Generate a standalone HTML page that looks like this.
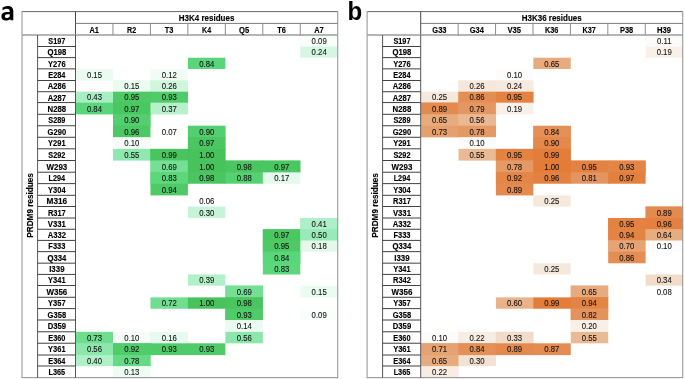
<!DOCTYPE html>
<html><head><meta charset="utf-8"><title>figure</title>
<style>
html,body{margin:0;padding:0;background:#fff;}
body{width:685px;height:379px;overflow:hidden;}
svg{display:block;opacity:0.999;will-change:transform;}
text{font-family:"Liberation Sans",sans-serif;fill:#1e1e1e;}
.hb{font-weight:bold;font-size:9.2px;fill:#000;stroke:#000;stroke-width:0.15px;}
.ch{font-weight:bold;font-size:8.8px;fill:#000;stroke:#000;stroke-width:0.15px;}
.rl{font-weight:bold;font-size:8.8px;fill:#000;stroke:#000;stroke-width:0.15px;}
.nv{font-size:9.0px;fill:#111;stroke:#111;stroke-width:0.1px;}
.vt{font-weight:bold;font-size:9.0px;fill:#000;stroke:#000;stroke-width:0.15px;}
.pl{font-weight:bold;font-size:25.6px;fill:#000;}
</style></head>
<body>
<svg width="685" height="379" viewBox="0 0 685 379">
<rect width="685" height="379" fill="#fff"/>
<rect x="300.29" y="35.10" width="37.46" height="11.49" fill="#F8FEFA"/>
<rect x="300.29" y="35.10" width="37.46" height="12.49" fill="#F8FEFA"/>
<rect x="300.29" y="46.59" width="37.46" height="11.14" fill="#D5F7E2"/>
<rect x="187.92" y="57.72" width="37.46" height="11.24" fill="#5AD67A"/>
<rect x="75.55" y="68.96" width="37.46" height="11.64" fill="#EAFBF0"/>
<rect x="150.46" y="68.96" width="37.46" height="11.64" fill="#F1FCF5"/>
<rect x="150.46" y="68.96" width="37.46" height="12.64" fill="#F1FCF5"/>
<rect x="113.01" y="80.59" width="38.46" height="11.24" fill="#EAFBF0"/>
<rect x="113.01" y="80.59" width="37.46" height="12.24" fill="#EAFBF0"/>
<rect x="150.46" y="80.59" width="37.46" height="11.24" fill="#D0F6DE"/>
<rect x="150.46" y="80.59" width="37.46" height="12.24" fill="#D0F6DE"/>
<rect x="75.55" y="91.83" width="38.46" height="10.84" fill="#A8EEC2"/>
<rect x="75.55" y="91.83" width="37.46" height="11.84" fill="#A8EEC2"/>
<rect x="113.01" y="91.83" width="38.46" height="10.84" fill="#4EC965"/>
<rect x="113.01" y="91.83" width="37.46" height="11.84" fill="#4EC965"/>
<rect x="150.46" y="91.83" width="37.46" height="10.84" fill="#50CB69"/>
<rect x="150.46" y="91.83" width="37.46" height="11.84" fill="#50CB69"/>
<rect x="75.55" y="102.67" width="38.46" height="11.74" fill="#5AD67A"/>
<rect x="113.01" y="102.67" width="38.46" height="11.74" fill="#4BC762"/>
<rect x="113.01" y="102.67" width="37.46" height="12.74" fill="#4BC762"/>
<rect x="150.46" y="102.67" width="37.46" height="11.74" fill="#B6F1CC"/>
<rect x="113.01" y="114.40" width="37.46" height="11.44" fill="#53CF6F"/>
<rect x="113.01" y="114.40" width="37.46" height="12.44" fill="#53CF6F"/>
<rect x="113.01" y="125.84" width="38.46" height="11.54" fill="#4CC864"/>
<rect x="113.01" y="125.84" width="37.46" height="12.54" fill="#4CC864"/>
<rect x="150.46" y="125.84" width="38.46" height="11.54" fill="#FDFFFD"/>
<rect x="187.92" y="125.84" width="37.46" height="11.54" fill="#53CF6F"/>
<rect x="187.92" y="125.84" width="37.46" height="12.54" fill="#53CF6F"/>
<rect x="113.01" y="137.37" width="37.46" height="11.54" fill="#F6FDF8"/>
<rect x="113.01" y="137.37" width="37.46" height="12.54" fill="#F6FDF8"/>
<rect x="187.92" y="137.37" width="37.46" height="11.54" fill="#4BC762"/>
<rect x="187.92" y="137.37" width="37.46" height="12.54" fill="#4BC762"/>
<rect x="113.01" y="148.91" width="38.46" height="11.69" fill="#8FE8AE"/>
<rect x="150.46" y="148.91" width="38.46" height="11.69" fill="#49C45E"/>
<rect x="150.46" y="148.91" width="37.46" height="12.69" fill="#49C45E"/>
<rect x="187.92" y="148.91" width="37.46" height="11.69" fill="#48C35C"/>
<rect x="187.92" y="148.91" width="37.46" height="12.69" fill="#48C35C"/>
<rect x="150.46" y="160.60" width="38.46" height="11.74" fill="#75DF95"/>
<rect x="150.46" y="160.60" width="37.46" height="12.74" fill="#75DF95"/>
<rect x="187.92" y="160.60" width="38.46" height="11.74" fill="#48C35C"/>
<rect x="187.92" y="160.60" width="37.46" height="12.74" fill="#48C35C"/>
<rect x="225.38" y="160.60" width="38.46" height="11.74" fill="#4AC560"/>
<rect x="225.38" y="160.60" width="37.46" height="12.74" fill="#4AC560"/>
<rect x="262.84" y="160.60" width="37.46" height="11.74" fill="#4BC762"/>
<rect x="262.84" y="160.60" width="37.46" height="12.74" fill="#4BC762"/>
<rect x="150.46" y="172.33" width="38.46" height="11.39" fill="#5CD77C"/>
<rect x="150.46" y="172.33" width="37.46" height="12.39" fill="#5CD77C"/>
<rect x="187.92" y="172.33" width="38.46" height="11.39" fill="#4AC560"/>
<rect x="225.38" y="172.33" width="38.46" height="11.39" fill="#56D172"/>
<rect x="262.84" y="172.33" width="37.46" height="11.39" fill="#E5FAED"/>
<rect x="150.46" y="183.72" width="37.46" height="11.69" fill="#4FCA67"/>
<rect x="187.92" y="206.59" width="37.46" height="11.54" fill="#C7F4D8"/>
<rect x="300.29" y="218.13" width="37.46" height="11.24" fill="#ADEFC6"/>
<rect x="300.29" y="218.13" width="37.46" height="12.24" fill="#ADEFC6"/>
<rect x="262.84" y="229.36" width="38.46" height="11.14" fill="#4BC762"/>
<rect x="262.84" y="229.36" width="37.46" height="12.14" fill="#4BC762"/>
<rect x="300.29" y="229.36" width="37.46" height="11.14" fill="#98EBB7"/>
<rect x="300.29" y="229.36" width="37.46" height="12.14" fill="#98EBB7"/>
<rect x="262.84" y="240.50" width="38.46" height="11.24" fill="#4EC965"/>
<rect x="262.84" y="240.50" width="37.46" height="12.24" fill="#4EC965"/>
<rect x="300.29" y="240.50" width="37.46" height="11.24" fill="#E3FAEB"/>
<rect x="262.84" y="251.73" width="37.46" height="11.54" fill="#5AD67A"/>
<rect x="262.84" y="251.73" width="37.46" height="12.54" fill="#5AD67A"/>
<rect x="262.84" y="263.27" width="37.46" height="11.24" fill="#5CD77C"/>
<rect x="187.92" y="274.51" width="37.46" height="11.14" fill="#B2F0C9"/>
<rect x="225.38" y="285.64" width="37.46" height="11.74" fill="#75DF95"/>
<rect x="225.38" y="285.64" width="37.46" height="12.74" fill="#75DF95"/>
<rect x="300.29" y="285.64" width="37.46" height="11.74" fill="#EAFBF0"/>
<rect x="150.46" y="297.38" width="38.46" height="11.34" fill="#70DD90"/>
<rect x="187.92" y="297.38" width="38.46" height="11.34" fill="#48C35C"/>
<rect x="225.38" y="297.38" width="37.46" height="11.34" fill="#4AC560"/>
<rect x="225.38" y="297.38" width="37.46" height="12.34" fill="#4AC560"/>
<rect x="225.38" y="308.71" width="37.46" height="11.39" fill="#50CB69"/>
<rect x="225.38" y="308.71" width="37.46" height="12.39" fill="#50CB69"/>
<rect x="300.29" y="308.71" width="37.46" height="11.39" fill="#F8FEFA"/>
<rect x="225.38" y="320.10" width="37.46" height="11.79" fill="#ECFBF2"/>
<rect x="225.38" y="320.10" width="37.46" height="12.79" fill="#ECFBF2"/>
<rect x="75.55" y="331.89" width="38.46" height="11.44" fill="#6EDD8E"/>
<rect x="75.55" y="331.89" width="37.46" height="12.44" fill="#6EDD8E"/>
<rect x="113.01" y="331.89" width="38.46" height="11.44" fill="#F6FDF8"/>
<rect x="113.01" y="331.89" width="37.46" height="12.44" fill="#F6FDF8"/>
<rect x="150.46" y="331.89" width="37.46" height="11.44" fill="#E8FAEF"/>
<rect x="150.46" y="331.89" width="37.46" height="12.44" fill="#E8FAEF"/>
<rect x="225.38" y="331.89" width="37.46" height="11.44" fill="#8DE7AC"/>
<rect x="75.55" y="343.32" width="38.46" height="11.79" fill="#8DE7AC"/>
<rect x="75.55" y="343.32" width="37.46" height="12.79" fill="#8DE7AC"/>
<rect x="113.01" y="343.32" width="38.46" height="11.79" fill="#51CC6B"/>
<rect x="113.01" y="343.32" width="37.46" height="12.79" fill="#51CC6B"/>
<rect x="150.46" y="343.32" width="38.46" height="11.79" fill="#50CB69"/>
<rect x="187.92" y="343.32" width="37.46" height="11.79" fill="#50CB69"/>
<rect x="75.55" y="355.11" width="38.46" height="10.99" fill="#AFF0C7"/>
<rect x="113.01" y="355.11" width="37.46" height="10.99" fill="#65DA85"/>
<rect x="113.01" y="355.11" width="37.46" height="11.99" fill="#65DA85"/>
<rect x="113.01" y="366.09" width="37.46" height="11.69" fill="#EFFCF4"/>
<line x1="22.00" y1="11.60" x2="337.70" y2="11.60" stroke="#666" stroke-width="1"/>
<line x1="22.00" y1="377.68" x2="337.70" y2="377.68" stroke="#8a8a8a" stroke-width="1"/>
<line x1="22.00" y1="11.10" x2="22.00" y2="378.18" stroke="#9a9a9a" stroke-width="1.1"/>
<line x1="337.70" y1="11.10" x2="337.70" y2="378.18" stroke="#9a9a9a" stroke-width="1.1"/>
<line x1="75.50" y1="11.60" x2="75.50" y2="35.00" stroke="#4a4a4a" stroke-width="1"/>
<line x1="75.50" y1="23.40" x2="337.70" y2="23.40" stroke="#7a7a7a" stroke-width="1"/>
<line x1="22.00" y1="35.00" x2="337.70" y2="35.00" stroke="#9c9c9c" stroke-width="1.5"/>
<line x1="112.96" y1="23.40" x2="112.96" y2="35.00" stroke="#8c8c8c" stroke-width="1"/>
<line x1="150.41" y1="23.40" x2="150.41" y2="35.00" stroke="#8c8c8c" stroke-width="1"/>
<line x1="187.87" y1="23.40" x2="187.87" y2="35.00" stroke="#8c8c8c" stroke-width="1"/>
<line x1="225.33" y1="23.40" x2="225.33" y2="35.00" stroke="#8c8c8c" stroke-width="1"/>
<line x1="262.79" y1="23.40" x2="262.79" y2="35.00" stroke="#8c8c8c" stroke-width="1"/>
<line x1="300.24" y1="23.40" x2="300.24" y2="35.00" stroke="#8c8c8c" stroke-width="1"/>
<line x1="37.60" y1="35.00" x2="37.60" y2="377.68" stroke="#555555" stroke-width="1"/>
<line x1="75.50" y1="35.00" x2="75.50" y2="377.68" stroke="#555555" stroke-width="1"/>
<line x1="37.60" y1="46.49" x2="75.50" y2="46.49" stroke="#404040" stroke-width="1"/>
<line x1="37.60" y1="57.62" x2="75.50" y2="57.62" stroke="#404040" stroke-width="1"/>
<line x1="37.60" y1="68.86" x2="75.50" y2="68.86" stroke="#404040" stroke-width="1"/>
<line x1="37.60" y1="80.49" x2="75.50" y2="80.49" stroke="#404040" stroke-width="1"/>
<line x1="37.60" y1="91.73" x2="75.50" y2="91.73" stroke="#404040" stroke-width="1"/>
<line x1="37.60" y1="102.57" x2="75.50" y2="102.57" stroke="#404040" stroke-width="1"/>
<line x1="37.60" y1="114.30" x2="75.50" y2="114.30" stroke="#404040" stroke-width="1"/>
<line x1="37.60" y1="125.74" x2="75.50" y2="125.74" stroke="#404040" stroke-width="1"/>
<line x1="37.60" y1="137.27" x2="75.50" y2="137.27" stroke="#404040" stroke-width="1"/>
<line x1="37.60" y1="148.81" x2="75.50" y2="148.81" stroke="#404040" stroke-width="1"/>
<line x1="37.60" y1="160.50" x2="75.50" y2="160.50" stroke="#404040" stroke-width="1"/>
<line x1="37.60" y1="172.23" x2="75.50" y2="172.23" stroke="#404040" stroke-width="1"/>
<line x1="37.60" y1="183.62" x2="75.50" y2="183.62" stroke="#404040" stroke-width="1"/>
<line x1="37.60" y1="195.30" x2="75.50" y2="195.30" stroke="#404040" stroke-width="1"/>
<line x1="37.60" y1="206.49" x2="75.50" y2="206.49" stroke="#404040" stroke-width="1"/>
<line x1="37.60" y1="218.03" x2="75.50" y2="218.03" stroke="#404040" stroke-width="1"/>
<line x1="37.60" y1="229.26" x2="75.50" y2="229.26" stroke="#404040" stroke-width="1"/>
<line x1="37.60" y1="240.40" x2="75.50" y2="240.40" stroke="#404040" stroke-width="1"/>
<line x1="37.60" y1="251.63" x2="75.50" y2="251.63" stroke="#404040" stroke-width="1"/>
<line x1="37.60" y1="263.17" x2="75.50" y2="263.17" stroke="#404040" stroke-width="1"/>
<line x1="37.60" y1="274.41" x2="75.50" y2="274.41" stroke="#404040" stroke-width="1"/>
<line x1="37.60" y1="285.54" x2="75.50" y2="285.54" stroke="#404040" stroke-width="1"/>
<line x1="37.60" y1="297.28" x2="75.50" y2="297.28" stroke="#404040" stroke-width="1"/>
<line x1="37.60" y1="308.61" x2="75.50" y2="308.61" stroke="#404040" stroke-width="1"/>
<line x1="37.60" y1="320.00" x2="75.50" y2="320.00" stroke="#404040" stroke-width="1"/>
<line x1="37.60" y1="331.79" x2="75.50" y2="331.79" stroke="#404040" stroke-width="1"/>
<line x1="37.60" y1="343.22" x2="75.50" y2="343.22" stroke="#404040" stroke-width="1"/>
<line x1="37.60" y1="355.01" x2="75.50" y2="355.01" stroke="#404040" stroke-width="1"/>
<line x1="37.60" y1="365.99" x2="75.50" y2="365.99" stroke="#404040" stroke-width="1"/>
<text class="hb" transform="translate(206.60,21.40) scale(0.87,1)" text-anchor="middle">H3K4 residues</text>
<text class="ch" transform="translate(94.23,32.90) scale(0.848,1)" text-anchor="middle">A1</text>
<text class="ch" transform="translate(131.69,32.90) scale(0.815,1)" text-anchor="middle">R2</text>
<text class="ch" transform="translate(169.14,32.90) scale(0.836,1)" text-anchor="middle">T3</text>
<text class="ch" transform="translate(206.60,32.90) scale(0.803,1)" text-anchor="middle">K4</text>
<text class="ch" transform="translate(244.06,32.90) scale(0.864,1)" text-anchor="middle">Q5</text>
<text class="ch" transform="translate(281.51,32.90) scale(0.836,1)" text-anchor="middle">T6</text>
<text class="ch" transform="translate(318.97,32.90) scale(0.848,1)" text-anchor="middle">A7</text>
<text class="rl" transform="translate(56.85,44.09) scale(0.832,1)" text-anchor="middle">S197</text>
<text class="nv" transform="translate(319.17,44.04) scale(0.862,1)" text-anchor="middle">0.09</text>
<text class="rl" transform="translate(56.85,55.40) scale(0.875,1)" text-anchor="middle">Q198</text>
<text class="nv" transform="translate(319.17,55.35) scale(0.862,1)" text-anchor="middle">0.24</text>
<text class="rl" transform="translate(56.85,66.59) scale(0.851,1)" text-anchor="middle">Y276</text>
<text class="nv" transform="translate(206.80,66.54) scale(0.862,1)" text-anchor="middle">0.84</text>
<text class="rl" transform="translate(56.85,78.03) scale(0.838,1)" text-anchor="middle">E284</text>
<text class="nv" transform="translate(94.43,77.98) scale(0.862,1)" text-anchor="middle">0.15</text>
<text class="nv" transform="translate(169.34,77.98) scale(0.862,1)" text-anchor="middle">0.12</text>
<text class="rl" transform="translate(56.85,89.46) scale(0.867,1)" text-anchor="middle">A286</text>
<text class="nv" transform="translate(131.89,89.41) scale(0.862,1)" text-anchor="middle">0.15</text>
<text class="nv" transform="translate(169.34,89.41) scale(0.862,1)" text-anchor="middle">0.26</text>
<text class="rl" transform="translate(56.85,100.50) scale(0.867,1)" text-anchor="middle">A287</text>
<text class="nv" transform="translate(94.43,100.45) scale(0.862,1)" text-anchor="middle">0.43</text>
<text class="nv" transform="translate(131.89,100.45) scale(0.862,1)" text-anchor="middle">0.95</text>
<text class="nv" transform="translate(169.34,100.45) scale(0.862,1)" text-anchor="middle">0.93</text>
<text class="rl" transform="translate(56.85,111.78) scale(0.889,1)" text-anchor="middle">N288</text>
<text class="nv" transform="translate(94.43,111.73) scale(0.862,1)" text-anchor="middle">0.84</text>
<text class="nv" transform="translate(131.89,111.73) scale(0.862,1)" text-anchor="middle">0.97</text>
<text class="nv" transform="translate(169.34,111.73) scale(0.862,1)" text-anchor="middle">0.37</text>
<text class="rl" transform="translate(56.85,123.37) scale(0.832,1)" text-anchor="middle">S289</text>
<text class="nv" transform="translate(131.89,123.32) scale(0.862,1)" text-anchor="middle">0.90</text>
<text class="rl" transform="translate(56.85,134.86) scale(0.859,1)" text-anchor="middle">G290</text>
<text class="nv" transform="translate(131.89,134.81) scale(0.862,1)" text-anchor="middle">0.96</text>
<text class="nv" transform="translate(169.34,134.81) scale(0.862,1)" text-anchor="middle">0.07</text>
<text class="nv" transform="translate(206.80,134.81) scale(0.862,1)" text-anchor="middle">0.90</text>
<text class="rl" transform="translate(56.85,146.39) scale(0.851,1)" text-anchor="middle">Y291</text>
<text class="nv" transform="translate(131.89,146.34) scale(0.862,1)" text-anchor="middle">0.10</text>
<text class="nv" transform="translate(206.80,146.34) scale(0.862,1)" text-anchor="middle">0.97</text>
<text class="rl" transform="translate(56.85,158.00) scale(0.832,1)" text-anchor="middle">S292</text>
<text class="nv" transform="translate(131.89,157.95) scale(0.862,1)" text-anchor="middle">0.55</text>
<text class="nv" transform="translate(169.34,157.95) scale(0.862,1)" text-anchor="middle">0.99</text>
<text class="nv" transform="translate(206.80,157.95) scale(0.862,1)" text-anchor="middle">1.00</text>
<text class="rl" transform="translate(56.85,169.71) scale(0.903,1)" text-anchor="middle">W293</text>
<text class="nv" transform="translate(169.34,169.66) scale(0.862,1)" text-anchor="middle">0.69</text>
<text class="nv" transform="translate(206.80,169.66) scale(0.862,1)" text-anchor="middle">1.00</text>
<text class="nv" transform="translate(244.26,169.66) scale(0.862,1)" text-anchor="middle">0.98</text>
<text class="nv" transform="translate(281.71,169.66) scale(0.862,1)" text-anchor="middle">0.97</text>
<text class="rl" transform="translate(56.85,181.28) scale(0.831,1)" text-anchor="middle">L294</text>
<text class="nv" transform="translate(169.34,181.22) scale(0.862,1)" text-anchor="middle">0.83</text>
<text class="nv" transform="translate(206.80,181.22) scale(0.862,1)" text-anchor="middle">0.98</text>
<text class="nv" transform="translate(244.26,181.22) scale(0.862,1)" text-anchor="middle">0.88</text>
<text class="nv" transform="translate(281.71,181.22) scale(0.862,1)" text-anchor="middle">0.17</text>
<text class="rl" transform="translate(56.85,192.81) scale(0.851,1)" text-anchor="middle">Y304</text>
<text class="nv" transform="translate(169.34,192.76) scale(0.862,1)" text-anchor="middle">0.94</text>
<text class="rl" transform="translate(56.85,204.25) scale(0.933,1)" text-anchor="middle">M316</text>
<text class="nv" transform="translate(206.80,204.20) scale(0.862,1)" text-anchor="middle">0.06</text>
<text class="rl" transform="translate(56.85,215.61) scale(0.849,1)" text-anchor="middle">R317</text>
<text class="nv" transform="translate(206.80,215.56) scale(0.862,1)" text-anchor="middle">0.30</text>
<text class="rl" transform="translate(56.85,226.99) scale(0.877,1)" text-anchor="middle">V331</text>
<text class="nv" transform="translate(319.17,226.94) scale(0.862,1)" text-anchor="middle">0.41</text>
<text class="rl" transform="translate(56.85,238.18) scale(0.867,1)" text-anchor="middle">A332</text>
<text class="nv" transform="translate(281.71,238.13) scale(0.862,1)" text-anchor="middle">0.97</text>
<text class="nv" transform="translate(319.17,238.13) scale(0.862,1)" text-anchor="middle">0.50</text>
<text class="rl" transform="translate(56.85,249.37) scale(0.846,1)" text-anchor="middle">F333</text>
<text class="nv" transform="translate(281.71,249.32) scale(0.862,1)" text-anchor="middle">0.95</text>
<text class="nv" transform="translate(319.17,249.32) scale(0.862,1)" text-anchor="middle">0.18</text>
<text class="rl" transform="translate(56.85,260.75) scale(0.875,1)" text-anchor="middle">Q334</text>
<text class="nv" transform="translate(281.71,260.70) scale(0.862,1)" text-anchor="middle">0.84</text>
<text class="rl" transform="translate(56.85,272.14) scale(0.895,1)" text-anchor="middle">I339</text>
<text class="nv" transform="translate(281.71,272.09) scale(0.862,1)" text-anchor="middle">0.83</text>
<text class="rl" transform="translate(56.85,283.32) scale(0.851,1)" text-anchor="middle">Y341</text>
<text class="nv" transform="translate(206.80,283.27) scale(0.862,1)" text-anchor="middle">0.39</text>
<text class="rl" transform="translate(56.85,294.76) scale(0.903,1)" text-anchor="middle">W356</text>
<text class="nv" transform="translate(244.26,294.71) scale(0.862,1)" text-anchor="middle">0.69</text>
<text class="nv" transform="translate(319.17,294.71) scale(0.862,1)" text-anchor="middle">0.15</text>
<text class="rl" transform="translate(56.85,306.30) scale(0.851,1)" text-anchor="middle">Y357</text>
<text class="nv" transform="translate(169.34,306.25) scale(0.862,1)" text-anchor="middle">0.72</text>
<text class="nv" transform="translate(206.80,306.25) scale(0.862,1)" text-anchor="middle">1.00</text>
<text class="nv" transform="translate(244.26,306.25) scale(0.862,1)" text-anchor="middle">0.98</text>
<text class="rl" transform="translate(56.85,317.66) scale(0.859,1)" text-anchor="middle">G358</text>
<text class="nv" transform="translate(244.26,317.61) scale(0.862,1)" text-anchor="middle">0.93</text>
<text class="nv" transform="translate(319.17,317.61) scale(0.862,1)" text-anchor="middle">0.09</text>
<text class="rl" transform="translate(56.85,329.24) scale(0.876,1)" text-anchor="middle">D359</text>
<text class="nv" transform="translate(244.26,329.19) scale(0.862,1)" text-anchor="middle">0.14</text>
<text class="rl" transform="translate(56.85,340.85) scale(0.838,1)" text-anchor="middle">E360</text>
<text class="nv" transform="translate(94.43,340.80) scale(0.862,1)" text-anchor="middle">0.73</text>
<text class="nv" transform="translate(131.89,340.80) scale(0.862,1)" text-anchor="middle">0.10</text>
<text class="nv" transform="translate(169.34,340.80) scale(0.862,1)" text-anchor="middle">0.16</text>
<text class="nv" transform="translate(244.26,340.80) scale(0.862,1)" text-anchor="middle">0.56</text>
<text class="rl" transform="translate(56.85,352.47) scale(0.851,1)" text-anchor="middle">Y361</text>
<text class="nv" transform="translate(94.43,352.42) scale(0.862,1)" text-anchor="middle">0.56</text>
<text class="nv" transform="translate(131.89,352.42) scale(0.862,1)" text-anchor="middle">0.92</text>
<text class="nv" transform="translate(169.34,352.42) scale(0.862,1)" text-anchor="middle">0.93</text>
<text class="nv" transform="translate(206.80,352.42) scale(0.862,1)" text-anchor="middle">0.93</text>
<text class="rl" transform="translate(56.85,363.85) scale(0.838,1)" text-anchor="middle">E364</text>
<text class="nv" transform="translate(94.43,363.80) scale(0.862,1)" text-anchor="middle">0.40</text>
<text class="nv" transform="translate(131.89,363.80) scale(0.862,1)" text-anchor="middle">0.78</text>
<text class="rl" transform="translate(56.85,375.19) scale(0.831,1)" text-anchor="middle">L365</text>
<text class="nv" transform="translate(131.89,375.14) scale(0.862,1)" text-anchor="middle">0.13</text>
<text class="vt" transform="translate(33.30,205.40) rotate(-90) scale(0.91,1)" text-anchor="middle">PRDM9 residues</text>
<path fill="#000" fill-rule="evenodd" d="M13.3 20.2 L10.4 20.2 L10.3 18.9 C9.0 20.0 7.4 20.5 5.8 20.5 C3.2 20.5 1.4 19.0 1.4 16.5 C1.4 13.4 3.8 12.0 7.6 12.0 L9.7 12.0 L9.7 11.3 C9.7 9.6 8.9 8.8 7.0 8.8 C5.5 8.8 4.0 9.3 2.6 10.2 L2.5 7.7 C3.8 6.8 5.6 6.0 7.6 6.0 C11.3 6.0 13.3 7.8 13.3 11.2 Z M9.7 14.3 L7.8 14.3 C5.8 14.3 4.9 15.0 4.9 16.3 C4.9 17.5 5.6 18.1 6.7 18.1 C7.8 18.1 8.7 17.6 9.7 16.6 Z"/>
<rect x="645.62" y="35.10" width="37.43" height="11.49" fill="#FDFBF9"/>
<rect x="645.62" y="35.10" width="37.43" height="12.49" fill="#FDFBF9"/>
<rect x="645.62" y="46.59" width="37.43" height="11.14" fill="#F9F1E9"/>
<rect x="533.34" y="57.72" width="37.43" height="11.24" fill="#E7AB7E"/>
<rect x="495.91" y="68.96" width="37.43" height="11.64" fill="#FEFCFB"/>
<rect x="495.91" y="68.96" width="37.43" height="12.64" fill="#FEFCFB"/>
<rect x="458.48" y="80.59" width="38.43" height="11.24" fill="#F5E7DB"/>
<rect x="458.48" y="80.59" width="37.43" height="12.24" fill="#F5E7DB"/>
<rect x="495.91" y="80.59" width="37.43" height="11.24" fill="#F6EADF"/>
<rect x="495.91" y="80.59" width="37.43" height="12.24" fill="#F6EADF"/>
<rect x="421.05" y="91.83" width="38.43" height="10.84" fill="#F5E9DD"/>
<rect x="421.05" y="91.83" width="37.43" height="11.84" fill="#F5E9DD"/>
<rect x="458.48" y="91.83" width="38.43" height="10.84" fill="#E48E54"/>
<rect x="458.48" y="91.83" width="37.43" height="11.84" fill="#E48E54"/>
<rect x="495.91" y="91.83" width="37.43" height="10.84" fill="#E48242"/>
<rect x="495.91" y="91.83" width="37.43" height="11.84" fill="#E48242"/>
<rect x="421.05" y="102.67" width="38.43" height="11.74" fill="#E48A4E"/>
<rect x="421.05" y="102.67" width="37.43" height="12.74" fill="#E48A4E"/>
<rect x="458.48" y="102.67" width="38.43" height="11.74" fill="#E59762"/>
<rect x="458.48" y="102.67" width="37.43" height="12.74" fill="#E59762"/>
<rect x="495.91" y="102.67" width="37.43" height="11.74" fill="#F9F1E9"/>
<rect x="421.05" y="114.40" width="38.43" height="11.44" fill="#E7AB7E"/>
<rect x="421.05" y="114.40" width="37.43" height="12.44" fill="#E7AB7E"/>
<rect x="458.48" y="114.40" width="37.43" height="11.44" fill="#EAB892"/>
<rect x="458.48" y="114.40" width="37.43" height="12.44" fill="#EAB892"/>
<rect x="421.05" y="125.84" width="38.43" height="11.54" fill="#E6A06E"/>
<rect x="458.48" y="125.84" width="37.43" height="11.54" fill="#E59964"/>
<rect x="458.48" y="125.84" width="37.43" height="12.54" fill="#E59964"/>
<rect x="533.34" y="125.84" width="37.43" height="11.54" fill="#E49058"/>
<rect x="533.34" y="125.84" width="37.43" height="12.54" fill="#E49058"/>
<rect x="458.48" y="137.37" width="37.43" height="11.54" fill="#FEFCFB"/>
<rect x="458.48" y="137.37" width="37.43" height="12.54" fill="#FEFCFB"/>
<rect x="533.34" y="137.37" width="37.43" height="11.54" fill="#E4884C"/>
<rect x="533.34" y="137.37" width="37.43" height="12.54" fill="#E4884C"/>
<rect x="458.48" y="148.91" width="38.43" height="11.69" fill="#EABA95"/>
<rect x="495.91" y="148.91" width="38.43" height="11.69" fill="#E48242"/>
<rect x="495.91" y="148.91" width="37.43" height="12.69" fill="#E48242"/>
<rect x="533.34" y="148.91" width="37.43" height="11.69" fill="#E47D3A"/>
<rect x="533.34" y="148.91" width="37.43" height="12.69" fill="#E47D3A"/>
<rect x="495.91" y="160.60" width="38.43" height="11.74" fill="#E59964"/>
<rect x="495.91" y="160.60" width="37.43" height="12.74" fill="#E59964"/>
<rect x="533.34" y="160.60" width="38.43" height="11.74" fill="#E47C38"/>
<rect x="533.34" y="160.60" width="37.43" height="12.74" fill="#E47C38"/>
<rect x="570.76" y="160.60" width="38.43" height="11.74" fill="#E48242"/>
<rect x="570.76" y="160.60" width="37.43" height="12.74" fill="#E48242"/>
<rect x="608.19" y="160.60" width="37.43" height="11.74" fill="#E48546"/>
<rect x="608.19" y="160.60" width="37.43" height="12.74" fill="#E48546"/>
<rect x="495.91" y="172.33" width="38.43" height="11.39" fill="#E48648"/>
<rect x="495.91" y="172.33" width="37.43" height="12.39" fill="#E48648"/>
<rect x="533.34" y="172.33" width="38.43" height="11.39" fill="#E48140"/>
<rect x="570.76" y="172.33" width="38.43" height="11.39" fill="#E4945E"/>
<rect x="608.19" y="172.33" width="37.43" height="11.39" fill="#E4803E"/>
<rect x="495.91" y="183.72" width="37.43" height="11.69" fill="#E48A4E"/>
<rect x="533.34" y="195.40" width="37.43" height="11.19" fill="#F5E9DD"/>
<rect x="645.62" y="206.59" width="37.43" height="11.54" fill="#E48A4E"/>
<rect x="645.62" y="206.59" width="37.43" height="12.54" fill="#E48A4E"/>
<rect x="608.19" y="218.13" width="38.43" height="11.24" fill="#E48242"/>
<rect x="608.19" y="218.13" width="37.43" height="12.24" fill="#E48242"/>
<rect x="645.62" y="218.13" width="37.43" height="11.24" fill="#E48140"/>
<rect x="645.62" y="218.13" width="37.43" height="12.24" fill="#E48140"/>
<rect x="608.19" y="229.36" width="38.43" height="11.14" fill="#E48444"/>
<rect x="608.19" y="229.36" width="37.43" height="12.14" fill="#E48444"/>
<rect x="645.62" y="229.36" width="37.43" height="11.14" fill="#E7AC80"/>
<rect x="645.62" y="229.36" width="37.43" height="12.14" fill="#E7AC80"/>
<rect x="608.19" y="240.50" width="38.43" height="11.24" fill="#E6A474"/>
<rect x="608.19" y="240.50" width="37.43" height="12.24" fill="#E6A474"/>
<rect x="645.62" y="240.50" width="37.43" height="11.24" fill="#FEFCFB"/>
<rect x="608.19" y="251.73" width="37.43" height="11.54" fill="#E48E54"/>
<rect x="533.34" y="263.27" width="37.43" height="11.24" fill="#F5E9DD"/>
<rect x="645.62" y="274.51" width="37.43" height="11.14" fill="#F2DBC7"/>
<rect x="570.76" y="285.64" width="37.43" height="11.74" fill="#E7AB7E"/>
<rect x="570.76" y="285.64" width="37.43" height="12.74" fill="#E7AB7E"/>
<rect x="495.91" y="297.38" width="38.43" height="11.34" fill="#E9B289"/>
<rect x="533.34" y="297.38" width="38.43" height="11.34" fill="#E47D3A"/>
<rect x="570.76" y="297.38" width="37.43" height="11.34" fill="#E48444"/>
<rect x="570.76" y="297.38" width="37.43" height="12.34" fill="#E48444"/>
<rect x="570.76" y="308.71" width="37.43" height="11.39" fill="#E4935C"/>
<rect x="570.76" y="308.71" width="37.43" height="12.39" fill="#E4935C"/>
<rect x="570.76" y="320.10" width="37.43" height="11.79" fill="#F8EFE7"/>
<rect x="570.76" y="320.10" width="37.43" height="12.79" fill="#F8EFE7"/>
<rect x="421.05" y="331.89" width="38.43" height="11.44" fill="#FEFCFB"/>
<rect x="421.05" y="331.89" width="37.43" height="12.44" fill="#FEFCFB"/>
<rect x="458.48" y="331.89" width="38.43" height="11.44" fill="#F7EDE3"/>
<rect x="458.48" y="331.89" width="37.43" height="12.44" fill="#F7EDE3"/>
<rect x="495.91" y="331.89" width="37.43" height="11.44" fill="#F2DCC9"/>
<rect x="495.91" y="331.89" width="37.43" height="12.44" fill="#F2DCC9"/>
<rect x="570.76" y="331.89" width="37.43" height="11.44" fill="#EABA95"/>
<rect x="421.05" y="343.32" width="38.43" height="11.79" fill="#E6A272"/>
<rect x="421.05" y="343.32" width="37.43" height="12.79" fill="#E6A272"/>
<rect x="458.48" y="343.32" width="38.43" height="11.79" fill="#E49058"/>
<rect x="458.48" y="343.32" width="37.43" height="12.79" fill="#E49058"/>
<rect x="495.91" y="343.32" width="38.43" height="11.79" fill="#E48A4E"/>
<rect x="533.34" y="343.32" width="37.43" height="11.79" fill="#E48C52"/>
<rect x="421.05" y="355.11" width="38.43" height="10.99" fill="#E7AB7E"/>
<rect x="421.05" y="355.11" width="37.43" height="11.99" fill="#E7AB7E"/>
<rect x="458.48" y="355.11" width="37.43" height="10.99" fill="#F3E1D1"/>
<rect x="421.05" y="366.09" width="37.43" height="11.69" fill="#F7EDE3"/>
<line x1="367.10" y1="11.60" x2="682.70" y2="11.60" stroke="#666" stroke-width="1"/>
<line x1="367.10" y1="377.68" x2="682.70" y2="377.68" stroke="#8a8a8a" stroke-width="1"/>
<line x1="367.10" y1="11.10" x2="367.10" y2="378.18" stroke="#9a9a9a" stroke-width="1.1"/>
<line x1="682.70" y1="11.10" x2="682.70" y2="378.18" stroke="#9a9a9a" stroke-width="1.1"/>
<line x1="420.70" y1="11.60" x2="420.70" y2="35.00" stroke="#4a4a4a" stroke-width="1"/>
<line x1="420.70" y1="23.40" x2="682.70" y2="23.40" stroke="#7a7a7a" stroke-width="1"/>
<line x1="367.10" y1="35.00" x2="682.70" y2="35.00" stroke="#9c9c9c" stroke-width="1.5"/>
<line x1="458.13" y1="23.40" x2="458.13" y2="35.00" stroke="#8c8c8c" stroke-width="1"/>
<line x1="495.56" y1="23.40" x2="495.56" y2="35.00" stroke="#8c8c8c" stroke-width="1"/>
<line x1="532.99" y1="23.40" x2="532.99" y2="35.00" stroke="#8c8c8c" stroke-width="1"/>
<line x1="570.41" y1="23.40" x2="570.41" y2="35.00" stroke="#8c8c8c" stroke-width="1"/>
<line x1="607.84" y1="23.40" x2="607.84" y2="35.00" stroke="#8c8c8c" stroke-width="1"/>
<line x1="645.27" y1="23.40" x2="645.27" y2="35.00" stroke="#8c8c8c" stroke-width="1"/>
<line x1="382.60" y1="35.00" x2="382.60" y2="377.68" stroke="#555555" stroke-width="1"/>
<line x1="420.70" y1="35.00" x2="420.70" y2="377.68" stroke="#555555" stroke-width="1"/>
<line x1="382.60" y1="46.49" x2="420.70" y2="46.49" stroke="#404040" stroke-width="1"/>
<line x1="382.60" y1="57.62" x2="420.70" y2="57.62" stroke="#404040" stroke-width="1"/>
<line x1="382.60" y1="68.86" x2="420.70" y2="68.86" stroke="#404040" stroke-width="1"/>
<line x1="382.60" y1="80.49" x2="420.70" y2="80.49" stroke="#404040" stroke-width="1"/>
<line x1="382.60" y1="91.73" x2="420.70" y2="91.73" stroke="#404040" stroke-width="1"/>
<line x1="382.60" y1="102.57" x2="420.70" y2="102.57" stroke="#404040" stroke-width="1"/>
<line x1="382.60" y1="114.30" x2="420.70" y2="114.30" stroke="#404040" stroke-width="1"/>
<line x1="382.60" y1="125.74" x2="420.70" y2="125.74" stroke="#404040" stroke-width="1"/>
<line x1="382.60" y1="137.27" x2="420.70" y2="137.27" stroke="#404040" stroke-width="1"/>
<line x1="382.60" y1="148.81" x2="420.70" y2="148.81" stroke="#404040" stroke-width="1"/>
<line x1="382.60" y1="160.50" x2="420.70" y2="160.50" stroke="#404040" stroke-width="1"/>
<line x1="382.60" y1="172.23" x2="420.70" y2="172.23" stroke="#404040" stroke-width="1"/>
<line x1="382.60" y1="183.62" x2="420.70" y2="183.62" stroke="#404040" stroke-width="1"/>
<line x1="382.60" y1="195.30" x2="420.70" y2="195.30" stroke="#404040" stroke-width="1"/>
<line x1="382.60" y1="206.49" x2="420.70" y2="206.49" stroke="#404040" stroke-width="1"/>
<line x1="382.60" y1="218.03" x2="420.70" y2="218.03" stroke="#404040" stroke-width="1"/>
<line x1="382.60" y1="229.26" x2="420.70" y2="229.26" stroke="#404040" stroke-width="1"/>
<line x1="382.60" y1="240.40" x2="420.70" y2="240.40" stroke="#404040" stroke-width="1"/>
<line x1="382.60" y1="251.63" x2="420.70" y2="251.63" stroke="#404040" stroke-width="1"/>
<line x1="382.60" y1="263.17" x2="420.70" y2="263.17" stroke="#404040" stroke-width="1"/>
<line x1="382.60" y1="274.41" x2="420.70" y2="274.41" stroke="#404040" stroke-width="1"/>
<line x1="382.60" y1="285.54" x2="420.70" y2="285.54" stroke="#404040" stroke-width="1"/>
<line x1="382.60" y1="297.28" x2="420.70" y2="297.28" stroke="#404040" stroke-width="1"/>
<line x1="382.60" y1="308.61" x2="420.70" y2="308.61" stroke="#404040" stroke-width="1"/>
<line x1="382.60" y1="320.00" x2="420.70" y2="320.00" stroke="#404040" stroke-width="1"/>
<line x1="382.60" y1="331.79" x2="420.70" y2="331.79" stroke="#404040" stroke-width="1"/>
<line x1="382.60" y1="343.22" x2="420.70" y2="343.22" stroke="#404040" stroke-width="1"/>
<line x1="382.60" y1="355.01" x2="420.70" y2="355.01" stroke="#404040" stroke-width="1"/>
<line x1="382.60" y1="365.99" x2="420.70" y2="365.99" stroke="#404040" stroke-width="1"/>
<text class="hb" transform="translate(551.70,21.40) scale(0.87,1)" text-anchor="middle">H3K36 residues</text>
<text class="ch" transform="translate(439.41,32.90) scale(0.851,1)" text-anchor="middle">G33</text>
<text class="ch" transform="translate(476.84,32.90) scale(0.851,1)" text-anchor="middle">G34</text>
<text class="ch" transform="translate(514.27,32.90) scale(0.874,1)" text-anchor="middle">V35</text>
<text class="ch" transform="translate(551.70,32.90) scale(0.829,1)" text-anchor="middle">K36</text>
<text class="ch" transform="translate(589.13,32.90) scale(0.829,1)" text-anchor="middle">K37</text>
<text class="ch" transform="translate(626.56,32.90) scale(0.846,1)" text-anchor="middle">P38</text>
<text class="ch" transform="translate(663.99,32.90) scale(0.873,1)" text-anchor="middle">H39</text>
<text class="rl" transform="translate(401.95,44.09) scale(0.832,1)" text-anchor="middle">S197</text>
<text class="nv" transform="translate(664.19,44.04) scale(0.862,1)" text-anchor="middle">0.11</text>
<text class="rl" transform="translate(401.95,55.40) scale(0.875,1)" text-anchor="middle">Q198</text>
<text class="nv" transform="translate(664.19,55.35) scale(0.862,1)" text-anchor="middle">0.19</text>
<text class="rl" transform="translate(401.95,66.59) scale(0.851,1)" text-anchor="middle">Y276</text>
<text class="nv" transform="translate(551.90,66.54) scale(0.862,1)" text-anchor="middle">0.65</text>
<text class="rl" transform="translate(401.95,78.03) scale(0.838,1)" text-anchor="middle">E284</text>
<text class="nv" transform="translate(514.47,77.98) scale(0.862,1)" text-anchor="middle">0.10</text>
<text class="rl" transform="translate(401.95,89.46) scale(0.867,1)" text-anchor="middle">A286</text>
<text class="nv" transform="translate(477.04,89.41) scale(0.862,1)" text-anchor="middle">0.26</text>
<text class="nv" transform="translate(514.47,89.41) scale(0.862,1)" text-anchor="middle">0.24</text>
<text class="rl" transform="translate(401.95,100.50) scale(0.867,1)" text-anchor="middle">A287</text>
<text class="nv" transform="translate(439.61,100.45) scale(0.862,1)" text-anchor="middle">0.25</text>
<text class="nv" transform="translate(477.04,100.45) scale(0.862,1)" text-anchor="middle">0.86</text>
<text class="nv" transform="translate(514.47,100.45) scale(0.862,1)" text-anchor="middle">0.95</text>
<text class="rl" transform="translate(401.95,111.78) scale(0.889,1)" text-anchor="middle">N288</text>
<text class="nv" transform="translate(439.61,111.73) scale(0.862,1)" text-anchor="middle">0.89</text>
<text class="nv" transform="translate(477.04,111.73) scale(0.862,1)" text-anchor="middle">0.79</text>
<text class="nv" transform="translate(514.47,111.73) scale(0.862,1)" text-anchor="middle">0.19</text>
<text class="rl" transform="translate(401.95,123.37) scale(0.832,1)" text-anchor="middle">S289</text>
<text class="nv" transform="translate(439.61,123.32) scale(0.862,1)" text-anchor="middle">0.65</text>
<text class="nv" transform="translate(477.04,123.32) scale(0.862,1)" text-anchor="middle">0.56</text>
<text class="rl" transform="translate(401.95,134.86) scale(0.859,1)" text-anchor="middle">G290</text>
<text class="nv" transform="translate(439.61,134.81) scale(0.862,1)" text-anchor="middle">0.73</text>
<text class="nv" transform="translate(477.04,134.81) scale(0.862,1)" text-anchor="middle">0.78</text>
<text class="nv" transform="translate(551.90,134.81) scale(0.862,1)" text-anchor="middle">0.84</text>
<text class="rl" transform="translate(401.95,146.39) scale(0.851,1)" text-anchor="middle">Y291</text>
<text class="nv" transform="translate(477.04,146.34) scale(0.862,1)" text-anchor="middle">0.10</text>
<text class="nv" transform="translate(551.90,146.34) scale(0.862,1)" text-anchor="middle">0.90</text>
<text class="rl" transform="translate(401.95,158.00) scale(0.832,1)" text-anchor="middle">S292</text>
<text class="nv" transform="translate(477.04,157.95) scale(0.862,1)" text-anchor="middle">0.55</text>
<text class="nv" transform="translate(514.47,157.95) scale(0.862,1)" text-anchor="middle">0.95</text>
<text class="nv" transform="translate(551.90,157.95) scale(0.862,1)" text-anchor="middle">0.99</text>
<text class="rl" transform="translate(401.95,169.71) scale(0.903,1)" text-anchor="middle">W293</text>
<text class="nv" transform="translate(514.47,169.66) scale(0.862,1)" text-anchor="middle">0.78</text>
<text class="nv" transform="translate(551.90,169.66) scale(0.862,1)" text-anchor="middle">1.00</text>
<text class="nv" transform="translate(589.33,169.66) scale(0.862,1)" text-anchor="middle">0.95</text>
<text class="nv" transform="translate(626.76,169.66) scale(0.862,1)" text-anchor="middle">0.93</text>
<text class="rl" transform="translate(401.95,181.28) scale(0.831,1)" text-anchor="middle">L294</text>
<text class="nv" transform="translate(514.47,181.22) scale(0.862,1)" text-anchor="middle">0.92</text>
<text class="nv" transform="translate(551.90,181.22) scale(0.862,1)" text-anchor="middle">0.96</text>
<text class="nv" transform="translate(589.33,181.22) scale(0.862,1)" text-anchor="middle">0.81</text>
<text class="nv" transform="translate(626.76,181.22) scale(0.862,1)" text-anchor="middle">0.97</text>
<text class="rl" transform="translate(401.95,192.81) scale(0.851,1)" text-anchor="middle">Y304</text>
<text class="nv" transform="translate(514.47,192.76) scale(0.862,1)" text-anchor="middle">0.89</text>
<text class="rl" transform="translate(401.95,204.25) scale(0.849,1)" text-anchor="middle">R317</text>
<text class="nv" transform="translate(551.90,204.20) scale(0.862,1)" text-anchor="middle">0.25</text>
<text class="rl" transform="translate(401.95,215.61) scale(0.877,1)" text-anchor="middle">V331</text>
<text class="nv" transform="translate(664.19,215.56) scale(0.862,1)" text-anchor="middle">0.89</text>
<text class="rl" transform="translate(401.95,226.99) scale(0.867,1)" text-anchor="middle">A332</text>
<text class="nv" transform="translate(626.76,226.94) scale(0.862,1)" text-anchor="middle">0.95</text>
<text class="nv" transform="translate(664.19,226.94) scale(0.862,1)" text-anchor="middle">0.96</text>
<text class="rl" transform="translate(401.95,238.18) scale(0.846,1)" text-anchor="middle">F333</text>
<text class="nv" transform="translate(626.76,238.13) scale(0.862,1)" text-anchor="middle">0.94</text>
<text class="nv" transform="translate(664.19,238.13) scale(0.862,1)" text-anchor="middle">0.64</text>
<text class="rl" transform="translate(401.95,249.37) scale(0.875,1)" text-anchor="middle">Q334</text>
<text class="nv" transform="translate(626.76,249.32) scale(0.862,1)" text-anchor="middle">0.70</text>
<text class="nv" transform="translate(664.19,249.32) scale(0.862,1)" text-anchor="middle">0.10</text>
<text class="rl" transform="translate(401.95,260.75) scale(0.895,1)" text-anchor="middle">I339</text>
<text class="nv" transform="translate(626.76,260.70) scale(0.862,1)" text-anchor="middle">0.86</text>
<text class="rl" transform="translate(401.95,272.14) scale(0.851,1)" text-anchor="middle">Y341</text>
<text class="nv" transform="translate(551.90,272.09) scale(0.862,1)" text-anchor="middle">0.25</text>
<text class="rl" transform="translate(401.95,283.32) scale(0.849,1)" text-anchor="middle">R342</text>
<text class="nv" transform="translate(664.19,283.27) scale(0.862,1)" text-anchor="middle">0.34</text>
<text class="rl" transform="translate(401.95,294.76) scale(0.903,1)" text-anchor="middle">W356</text>
<text class="nv" transform="translate(589.33,294.71) scale(0.862,1)" text-anchor="middle">0.65</text>
<text class="nv" transform="translate(664.19,294.71) scale(0.862,1)" text-anchor="middle">0.08</text>
<text class="rl" transform="translate(401.95,306.30) scale(0.851,1)" text-anchor="middle">Y357</text>
<text class="nv" transform="translate(514.47,306.25) scale(0.862,1)" text-anchor="middle">0.60</text>
<text class="nv" transform="translate(551.90,306.25) scale(0.862,1)" text-anchor="middle">0.99</text>
<text class="nv" transform="translate(589.33,306.25) scale(0.862,1)" text-anchor="middle">0.94</text>
<text class="rl" transform="translate(401.95,317.66) scale(0.859,1)" text-anchor="middle">G358</text>
<text class="nv" transform="translate(589.33,317.61) scale(0.862,1)" text-anchor="middle">0.82</text>
<text class="rl" transform="translate(401.95,329.24) scale(0.876,1)" text-anchor="middle">D359</text>
<text class="nv" transform="translate(589.33,329.19) scale(0.862,1)" text-anchor="middle">0.20</text>
<text class="rl" transform="translate(401.95,340.85) scale(0.838,1)" text-anchor="middle">E360</text>
<text class="nv" transform="translate(439.61,340.80) scale(0.862,1)" text-anchor="middle">0.10</text>
<text class="nv" transform="translate(477.04,340.80) scale(0.862,1)" text-anchor="middle">0.22</text>
<text class="nv" transform="translate(514.47,340.80) scale(0.862,1)" text-anchor="middle">0.33</text>
<text class="nv" transform="translate(589.33,340.80) scale(0.862,1)" text-anchor="middle">0.55</text>
<text class="rl" transform="translate(401.95,352.47) scale(0.851,1)" text-anchor="middle">Y361</text>
<text class="nv" transform="translate(439.61,352.42) scale(0.862,1)" text-anchor="middle">0.71</text>
<text class="nv" transform="translate(477.04,352.42) scale(0.862,1)" text-anchor="middle">0.84</text>
<text class="nv" transform="translate(514.47,352.42) scale(0.862,1)" text-anchor="middle">0.89</text>
<text class="nv" transform="translate(551.90,352.42) scale(0.862,1)" text-anchor="middle">0.87</text>
<text class="rl" transform="translate(401.95,363.85) scale(0.838,1)" text-anchor="middle">E364</text>
<text class="nv" transform="translate(439.61,363.80) scale(0.862,1)" text-anchor="middle">0.65</text>
<text class="nv" transform="translate(477.04,363.80) scale(0.862,1)" text-anchor="middle">0.30</text>
<text class="rl" transform="translate(401.95,375.19) scale(0.831,1)" text-anchor="middle">L365</text>
<text class="nv" transform="translate(439.61,375.14) scale(0.862,1)" text-anchor="middle">0.22</text>
<text class="vt" transform="translate(378.40,205.40) rotate(-90) scale(0.91,1)" text-anchor="middle">PRDM9 residues</text>
<text class="pl" transform="translate(347.6,20.3) scale(0.94,1)">b</text>
</svg>
</body></html>
